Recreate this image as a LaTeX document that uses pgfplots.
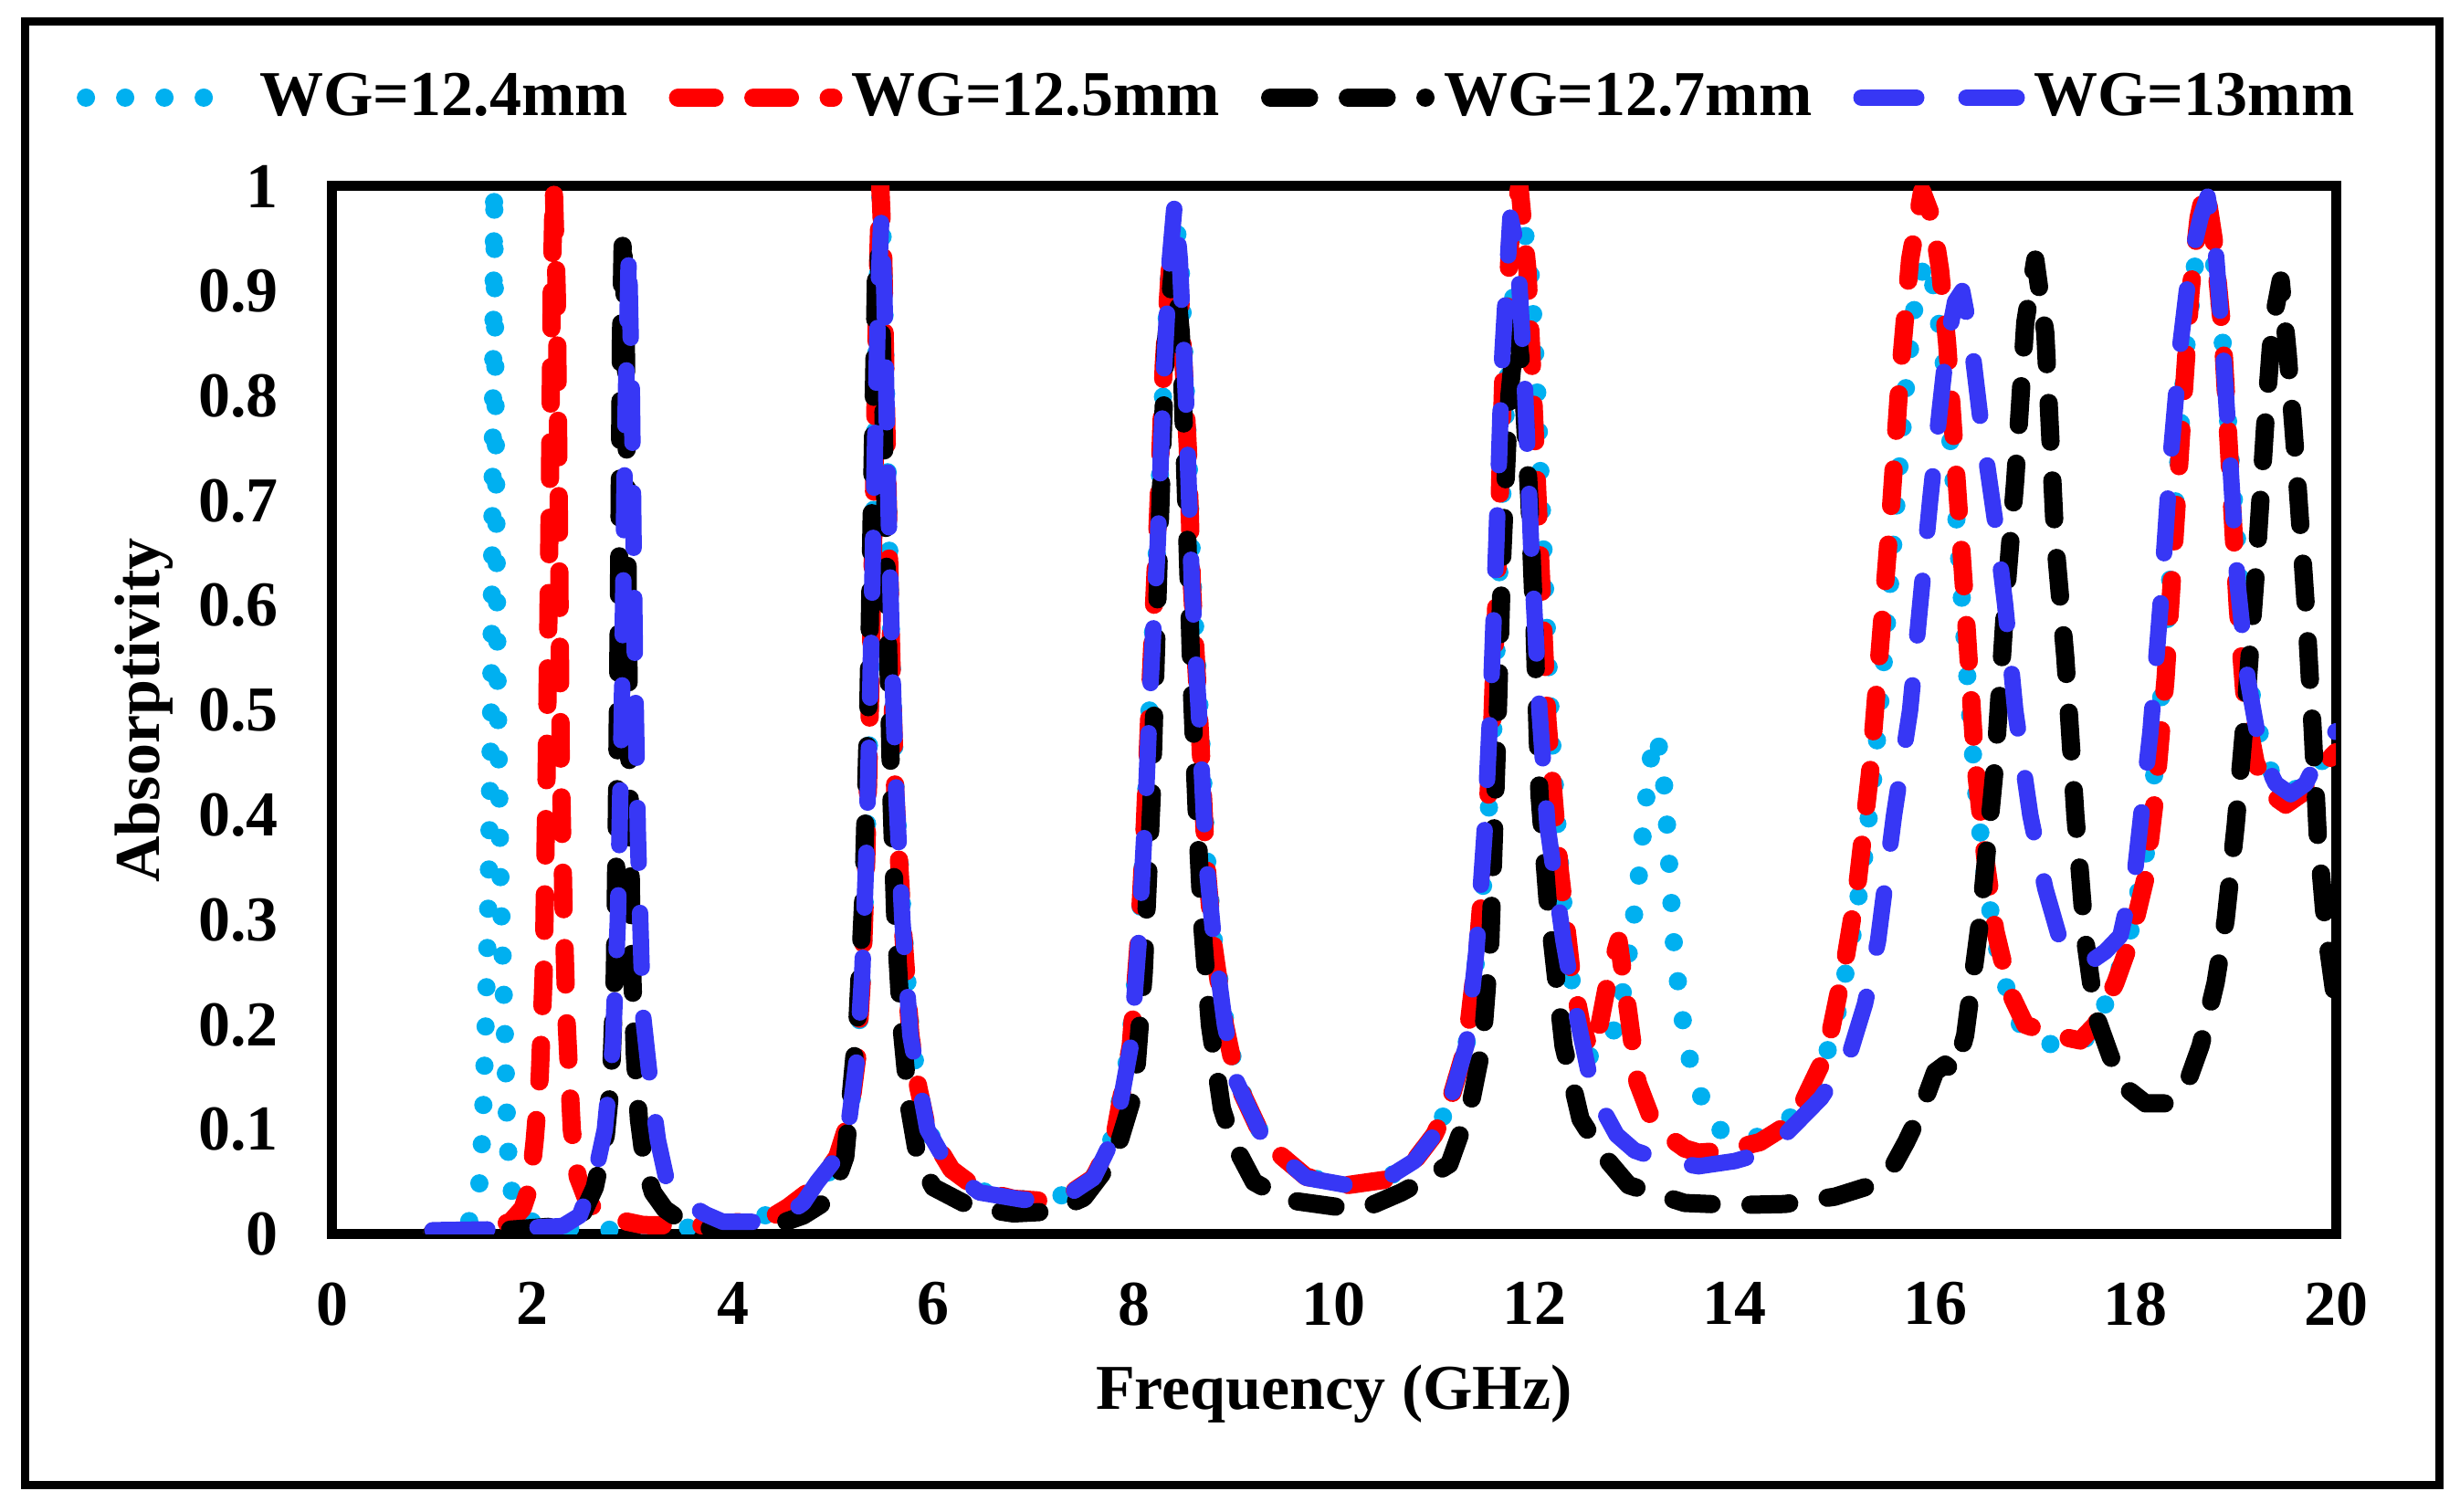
\documentclass[border=0pt]{standalone}
\usepackage{fontspec}
\setmainfont{Liberation Serif}
\usepackage{pgfplots}
\pgfplotsset{compat=1.18}
\definecolor{wgcyan}{RGB}{0,176,240}
\definecolor{wgblue}{RGB}{55,55,245}
\newcommand{\chartfont}{\fontsize{14}{17}\selectfont\bfseries}

\begin{document}
\begin{tikzpicture}
\begin{axis}[
    at={(0pt,0pt)}, anchor=south west,
    width=438.8pt, height=229.6pt, scale only axis,
    xmin=0, xmax=20, ymin=0, ymax=1,
    xtick={0,2,4,6,8,10,12,14,16,18,20},
    ytick={0,0.1,0.2,0.3,0.4,0.5,0.6,0.7,0.8,0.9,1},
    tick style={draw=none},
    axis line style={line width=2.2pt, line cap=rect},
    /pgf/number format/assume math mode=true,
    tick label style={font=\chartfont},
    label style={font=\chartfont},
    yticklabel style={xshift=-8.3pt},
    xticklabel style={yshift=-7pt},
    xlabel={Frequency (GHz)},
    ylabel={Absorptivity},
    xlabel style={at={(axis description cs:0.5,-0.152)}, anchor=center},
    ylabel style={at={(axis description cs:-0.094,0.5)}, anchor=center},
    legend columns=4,
    legend cell align=left,
    legend style={at={(axis description cs:-0.128,1.0845)}, anchor=west,
        draw=none, fill=none, inner sep=0pt, font=\chartfont,
        /tikz/every even column/.append style={column sep=7pt}},
    legend image code/.code={\draw[#1] (0pt,0pt) -- (34pt,0pt);},
]

% WG = 12.4 mm
\addplot[wgcyan, line width=4pt, line cap=round, line join=round, dash pattern=on 0pt off 8.6pt] coordinates {
(1.0,0.002) (1.2,0.004) (1.3,0.008) (1.37,0.013) (1.43,0.03) (1.47,0.05) (1.50,0.1) (1.53,0.2) (1.56,0.33) (1.585,0.5) (1.60,0.72) (1.615,1.0) (1.63,0.78) (1.65,0.52) (1.68,0.33) (1.72,0.2) (1.745,0.1) (1.77,0.05) (1.82,0.03) (1.9,0.016) (2.1,0.008) (2.5,0.005) (3.0,0.004) (3.5,0.006) (4.0,0.011) (4.4,0.02) (4.7,0.035) (4.9,0.05) (5.05,0.075) (5.16,0.11) (5.24,0.17) (5.29,0.25) (5.33,0.36) (5.37,0.52) (5.41,0.72) (5.44,0.9) (5.47,0.99) (5.50,0.94) (5.54,0.74) (5.58,0.56) (5.62,0.43) (5.69,0.31) (5.77,0.2) (5.85,0.14) (5.94,0.1) (6.18,0.062) (6.46,0.042) (6.8,0.034) (7.1,0.033) (7.35,0.039) (7.6,0.055) (7.8,0.095) (7.96,0.18) (8.05,0.28) (8.11,0.39) (8.17,0.53) (8.24,0.67) (8.3,0.82) (8.36,0.93) (8.42,0.97) (8.47,0.92) (8.54,0.76) (8.59,0.62) (8.67,0.48) (8.73,0.36) (8.8,0.28) (8.92,0.2) (9.04,0.145) (9.31,0.088) (9.72,0.055) (10.13,0.047) (10.5,0.052) (10.8,0.07) (11.0,0.095) (11.15,0.125) (11.32,0.18) (11.44,0.28) (11.53,0.38) (11.6,0.5) (11.66,0.66) (11.72,0.8) (11.8,0.91) (11.9,0.96) (11.97,0.91) (12.03,0.8) (12.1,0.63) (12.17,0.48) (12.25,0.36) (12.33,0.27) (12.42,0.21) (12.55,0.17) (12.68,0.172) (12.78,0.19) (12.88,0.23) (12.96,0.28) (13.03,0.33) (13.09,0.39) (13.14,0.44) (13.2,0.478) (13.26,0.46) (13.31,0.415) (13.35,0.345) (13.39,0.28) (13.45,0.225) (13.51,0.185) (13.58,0.155) (13.7,0.122) (13.85,0.1) (14.05,0.09) (14.33,0.095) (14.6,0.115) (14.85,0.15) (15.0,0.2) (15.15,0.27) (15.28,0.35) (15.4,0.45) (15.5,0.56) (15.6,0.68) (15.7,0.8) (15.8,0.89) (15.9,0.93) (16.0,0.9) (16.1,0.82) (16.2,0.7) (16.3,0.56) (16.4,0.43) (16.5,0.34) (16.6,0.28) (16.75,0.22) (16.9,0.19) (17.2,0.18) (17.45,0.18) (17.6,0.2) (17.8,0.24) (17.95,0.29) (18.1,0.36) (18.2,0.45) (18.3,0.56) (18.4,0.7) (18.5,0.84) (18.6,0.93) (18.68,0.96) (18.75,0.95) (18.85,0.88) (18.95,0.74) (19.05,0.62) (19.15,0.52) (19.3,0.45) (19.5,0.42) (19.7,0.43) (19.85,0.45) (20.0,0.47)
};
\addlegendentry{WG=12.4mm}

% WG = 12.5 mm
\addplot[red, line width=4pt, line cap=round, line join=round, dash pattern=on 8pt off 8.5pt] coordinates {
(1.0,0.002) (1.5,0.004) (1.78,0.012) (1.9,0.025) (1.97,0.045) (2.02,0.09) (2.07,0.15) (2.11,0.25) (2.14,0.45) (2.17,0.7) (2.19,0.9) (2.21,1.0) (2.24,0.9) (2.26,0.7) (2.28,0.45) (2.31,0.3) (2.34,0.2) (2.39,0.1) (2.45,0.055) (2.55,0.03) (2.75,0.016) (3.1,0.009) (3.6,0.008) (4.0,0.011) (4.43,0.019) (4.55,0.026) (4.84,0.047) (5.04,0.074) (5.16,0.11) (5.24,0.17) (5.29,0.25) (5.33,0.36) (5.37,0.52) (5.41,0.72) (5.44,0.9) (5.47,1.0) (5.50,0.93) (5.54,0.72) (5.58,0.55) (5.62,0.42) (5.69,0.30) (5.77,0.19) (5.85,0.14) (5.94,0.10) (6.18,0.062) (6.46,0.042) (6.8,0.034) (7.1,0.032) (7.35,0.038) (7.6,0.054) (7.81,0.095) (7.97,0.18) (8.05,0.28) (8.11,0.39) (8.17,0.53) (8.24,0.68) (8.30,0.83) (8.36,0.92) (8.41,0.94) (8.46,0.9) (8.54,0.75) (8.58,0.62) (8.66,0.48) (8.72,0.36) (8.79,0.28) (8.91,0.20) (9.03,0.145) (9.31,0.088) (9.72,0.055) (10.13,0.047) (10.5,0.052) (10.8,0.07) (11.0,0.095) (11.15,0.125) (11.32,0.18) (11.44,0.28) (11.52,0.38) (11.58,0.49) (11.64,0.66) (11.69,0.82) (11.76,0.95) (11.85,1.0) (11.93,0.92) (11.97,0.84) (12.05,0.66) (12.13,0.49) (12.25,0.35) (12.37,0.25) (12.47,0.2) (12.56,0.175) (12.65,0.2) (12.75,0.25) (12.84,0.28) (12.94,0.21) (13.03,0.145) (13.15,0.115) (13.31,0.095) (13.5,0.082) (13.64,0.078) (13.9,0.08) (14.25,0.088) (14.45,0.1) (14.65,0.12) (14.85,0.16) (14.95,0.19) (15.1,0.26) (15.22,0.33) (15.35,0.44) (15.45,0.56) (15.55,0.68) (15.65,0.82) (15.75,0.93) (15.87,0.995) (15.97,0.97) (16.05,0.92) (16.12,0.85) (16.2,0.74) (16.3,0.6) (16.4,0.45) (16.5,0.36) (16.6,0.29) (16.75,0.23) (16.9,0.2) (17.2,0.19) (17.45,0.185) (17.6,0.2) (17.8,0.24) (17.95,0.28) (18.1,0.34) (18.2,0.42) (18.3,0.53) (18.4,0.68) (18.48,0.8) (18.55,0.9) (18.63,0.97) (18.7,1.0) (18.78,0.95) (18.87,0.86) (18.95,0.72) (19.02,0.6) (19.1,0.5) (19.2,0.45) (19.35,0.42) (19.5,0.41) (19.65,0.42) (19.8,0.44) (20.0,0.46)
};
\addlegendentry{WG=12.5mm}

% WG = 12.7 mm
\addplot[black, line width=4pt, line cap=round, line join=round, dash pattern=on 8.5pt off 8.5pt] coordinates {
(1.0,0.002) (1.7,0.004) (2.27,0.008) (2.5,0.02) (2.62,0.045) (2.73,0.095) (2.78,0.144) (2.82,0.25) (2.84,0.4) (2.86,0.6) (2.88,0.85) (2.90,0.957) (2.93,0.85) (2.95,0.6) (2.97,0.4) (2.99,0.26) (3.02,0.17) (3.06,0.11) (3.12,0.065) (3.2,0.04) (3.32,0.024) (3.5,0.012) (3.8,0.005) (4.1,0.005) (4.4,0.008) (4.7,0.018) (4.9,0.03) (5.05,0.055) (5.12,0.074) (5.24,0.2) (5.3,0.32) (5.35,0.5) (5.39,0.72) (5.43,0.93) (5.45,0.94) (5.48,0.88) (5.52,0.7) (5.55,0.55) (5.58,0.42) (5.62,0.3) (5.68,0.2) (5.76,0.12) (5.85,0.07) (6.0,0.045) (6.38,0.026) (6.8,0.02) (7.2,0.022) (7.5,0.035) (7.81,0.074) (8.01,0.137) (8.1,0.25) (8.18,0.42) (8.25,0.65) (8.32,0.85) (8.40,0.93) (8.47,0.86) (8.53,0.68) (8.58,0.52) (8.63,0.4) (8.68,0.3) (8.76,0.2) (8.88,0.12) (8.99,0.088) (9.2,0.05) (9.52,0.033) (10.05,0.026) (10.33,0.026) (10.67,0.04) (10.9,0.052) (11.15,0.067) (11.36,0.123) (11.48,0.18) (11.56,0.28) (11.62,0.45) (11.68,0.65) (11.75,0.8) (11.82,0.87) (11.88,0.82) (11.95,0.7) (12.0,0.58) (12.05,0.42) (12.13,0.32) (12.21,0.25) (12.29,0.18) (12.46,0.11) (12.7,0.074) (12.94,0.047) (13.5,0.03) (14.0,0.028) (14.5,0.029) (15.0,0.036) (15.3,0.045) (15.55,0.06) (15.71,0.088) (15.85,0.116) (16.0,0.155) (16.1,0.162) (16.2,0.155) (16.3,0.19) (16.45,0.3) (16.6,0.45) (16.7,0.6) (16.8,0.72) (16.9,0.87) (17.0,0.93) (17.1,0.86) (17.2,0.66) (17.3,0.55) (17.4,0.4) (17.5,0.28) (17.6,0.21) (17.75,0.17) (17.9,0.14) (18.1,0.125) (18.3,0.125) (18.5,0.14) (18.65,0.18) (18.8,0.24) (18.9,0.3) (19.0,0.39) (19.1,0.5) (19.2,0.63) (19.3,0.78) (19.37,0.87) (19.45,0.91) (19.52,0.84) (19.6,0.74) (19.7,0.6) (19.77,0.48) (19.82,0.38) (19.9,0.29) (20.0,0.22)
};
\addlegendentry{WG=12.7mm}

% WG = 13 mm
\addplot[wgblue, line width=3.6pt, line cap=round, line join=round, dash pattern=on 12pt off 11pt] coordinates {
(1.0,0.004) (1.7,0.005) (2.3,0.008) (2.47,0.018) (2.63,0.06) (2.72,0.1) (2.8,0.18) (2.85,0.3) (2.89,0.5) (2.92,0.75) (2.96,0.94) (2.99,0.8) (3.02,0.55) (3.05,0.38) (3.1,0.21) (3.18,0.14) (3.25,0.09) (3.33,0.055) (3.5,0.032) (3.73,0.019) (3.9,0.012) (4.2,0.012) (4.48,0.015) (4.7,0.03) (4.84,0.05) (5.04,0.074) (5.16,0.11) (5.24,0.17) (5.29,0.25) (5.33,0.36) (5.37,0.52) (5.41,0.72) (5.45,0.9) (5.48,0.97) (5.51,0.9) (5.55,0.7) (5.59,0.54) (5.63,0.42) (5.69,0.3) (5.77,0.19) (5.94,0.10) (6.18,0.06) (6.46,0.04) (6.9,0.033) (7.3,0.035) (7.6,0.054) (7.81,0.095) (7.97,0.18) (8.05,0.28) (8.11,0.39) (8.17,0.53) (8.24,0.66) (8.3,0.82) (8.36,0.93) (8.41,0.985) (8.46,0.93) (8.52,0.8) (8.58,0.62) (8.66,0.48) (8.72,0.36) (8.8,0.28) (8.91,0.2) (9.03,0.145) (9.31,0.088) (9.72,0.054) (10.13,0.047) (10.5,0.052) (10.8,0.07) (11.0,0.095) (11.15,0.125) (11.32,0.18) (11.42,0.27) (11.5,0.38) (11.56,0.5) (11.62,0.66) (11.68,0.84) (11.76,0.97) (11.83,0.94) (11.9,0.82) (11.97,0.65) (12.05,0.5) (12.13,0.39) (12.29,0.28) (12.42,0.21) (12.58,0.137) (12.82,0.095) (13.0,0.08) (13.3,0.07) (13.64,0.065) (14.0,0.07) (14.29,0.078) (14.5,0.095) (14.86,0.13) (15.14,0.17) (15.3,0.22) (15.43,0.28) (15.59,0.40) (15.75,0.5) (15.85,0.6) (15.95,0.7) (16.05,0.79) (16.12,0.85) (16.2,0.89) (16.27,0.9) (16.35,0.86) (16.45,0.78) (16.6,0.68) (16.7,0.6) (16.8,0.5) (16.95,0.4) (17.1,0.33) (17.25,0.28) (17.4,0.265) (17.55,0.26) (17.7,0.27) (17.85,0.285) (18.0,0.35) (18.15,0.48) (18.25,0.6) (18.35,0.74) (18.45,0.85) (18.55,0.93) (18.65,0.97) (18.72,0.99) (18.8,0.94) (18.87,0.85) (18.95,0.73) (19.02,0.62) (19.12,0.53) (19.25,0.46) (19.4,0.43) (19.55,0.42) (19.7,0.43) (19.85,0.46) (20.0,0.48)
};
\addlegendentry{WG=13mm}

\end{axis}
% outer frame of the figure
\draw[line width=1.8pt] (-67.2pt,-55pt) rectangle (461.4pt,265.6pt);
\pgfresetboundingbox
\useasboundingbox (-72.8pt,-60.8pt) rectangle (466pt,270.4pt);
\end{tikzpicture}
\end{document}
